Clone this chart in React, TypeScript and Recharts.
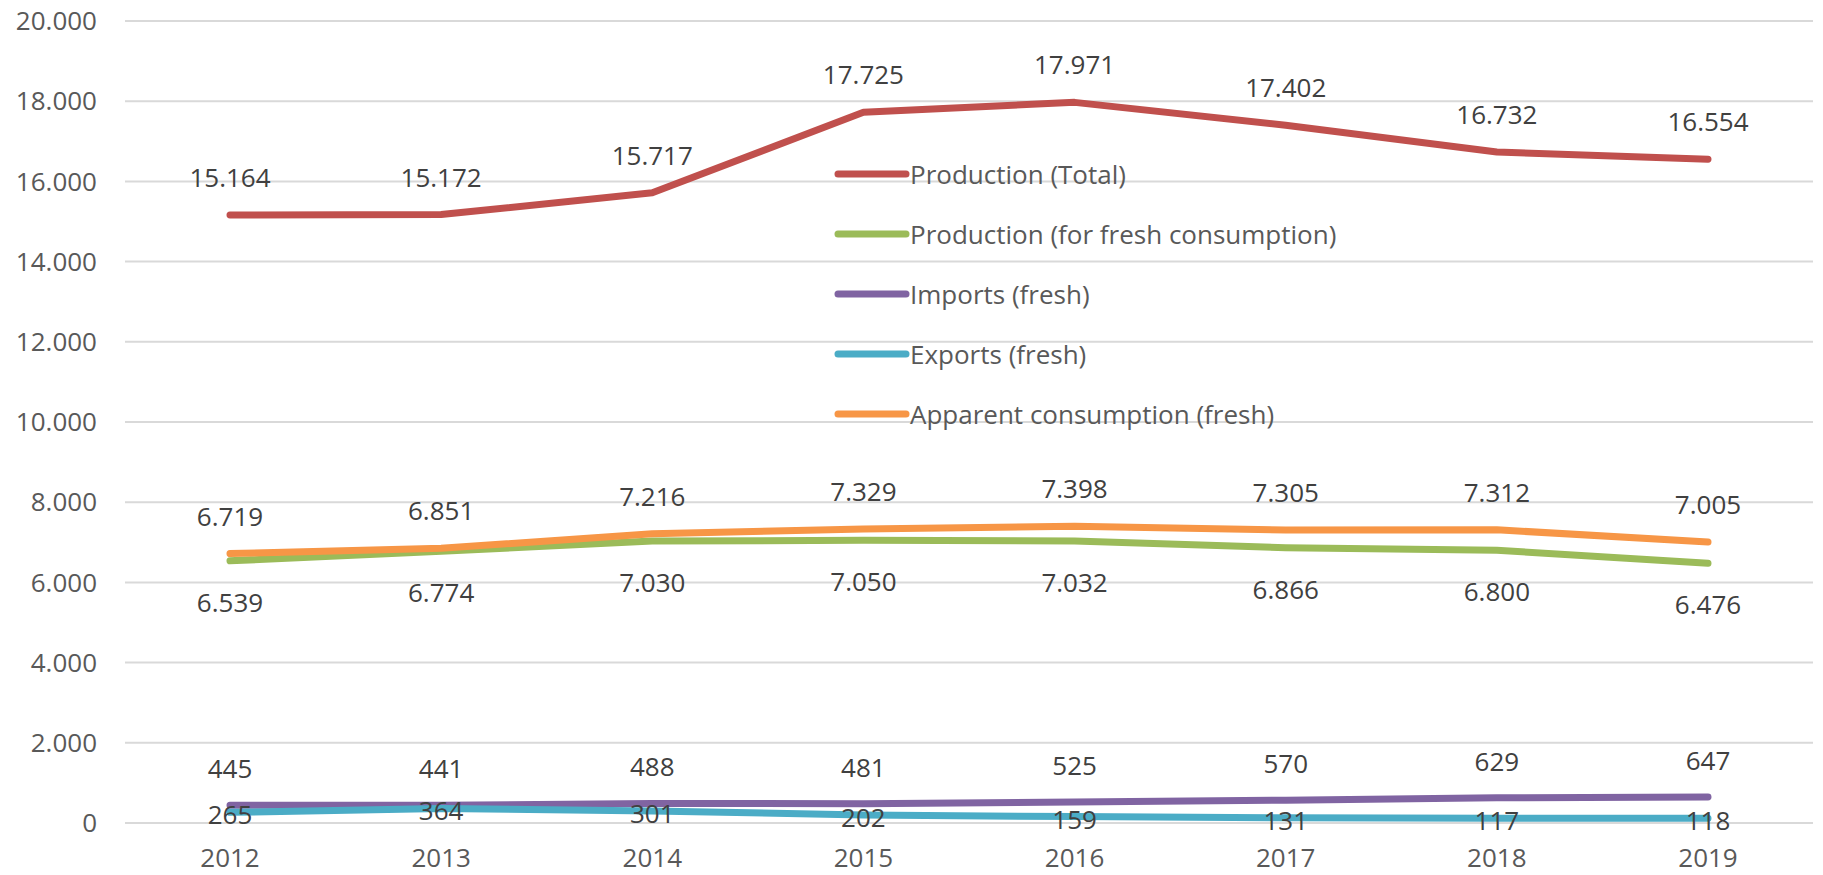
import React from "react";
import { LineChart, Line, XAxis, YAxis, CartesianGrid, Legend, LabelList } from "recharts";

const years = ["2012", "2013", "2014", "2015", "2016", "2017", "2018", "2019"];
const productionTotal = [15164, 15172, 15717, 17725, 17971, 17402, 16732, 16554];
const productionFresh = [6539, 6774, 7030, 7050, 7032, 6866, 6800, 6476];
const importsFresh = [445, 441, 488, 481, 525, 570, 629, 647];
const exportsFresh = [265, 364, 301, 202, 159, 131, 117, 118];
const apparentConsumption = [6719, 6851, 7216, 7329, 7398, 7305, 7312, 7005];
const yTicks = [0, 2000, 4000, 6000, 8000, 10000, 12000, 14000, 16000, 18000, 20000];

const TEXT = "#595959";
const LABEL = "#404040";
const FONT = 26;

// dy = where the label sits relative to its point
const SERIES = [
  { key: "total", name: "Production (Total)", color: "#C0504D", dy: -38 },
  { key: "fresh", name: "Production (for fresh consumption)", color: "#9BBB59", dy: 41 },
  { key: "imports", name: "Imports (fresh)", color: "#8064A2", dy: -37 },
  { key: "exports", name: "Exports (fresh)", color: "#4BACC6", dy: 2 },
  { key: "apparent", name: "Apparent consumption (fresh)", color: "#F79646", dy: -38 },
];

const data = years.map((year, i) => ({
  year,
  total: productionTotal[i],
  fresh: productionFresh[i],
  imports: importsFresh[i],
  exports: exportsFresh[i],
  apparent: apparentConsumption[i],
}));

const fmt = (v: number) => String(v).replace(/\B(?=(\d{3})+(?!\d))/g, ".");

const makeLabel = (dy: number) => (props: any) => {
  const { x, y, value } = props;
  if (x == null || y == null) return null;
  return (
    <text
      x={x}
      y={y + dy}
      textAnchor="middle"
      dominantBaseline="central"
      fontSize={FONT}
      fill={LABEL}
    >
      {fmt(value)}
    </text>
  );
};

const renderLegend = () => (
  <div style={{ display: "flex", flexDirection: "column" }}>
    {SERIES.map((s) => (
      <div key={s.key} style={{ height: 60, display: "flex", alignItems: "center" }}>
        <svg width={76} height={10} style={{ display: "block" }}>
          <line x1={4} y1={5} x2={72} y2={5} stroke={s.color} strokeWidth={7} strokeLinecap="round" />
        </svg>
        <span style={{ fontSize: FONT, color: TEXT, whiteSpace: "nowrap", lineHeight: "30px" }}>{s.name}</span>
      </div>
    ))}
  </div>
);

export default function App() {
  return (
    <div
      style={{
        position: "absolute",
        left: 0,
        top: 0,
        width: 1823,
        height: 875,
        background: "#fff",
        fontFamily: "'Open Sans', sans-serif",
      }}
    >
      <LineChart width={1823} height={875} data={data} margin={{ top: 21, right: 10, bottom: 0, left: 0 }}>
        <CartesianGrid vertical={false} stroke="#D9D9D9" strokeWidth={2} />
        <XAxis
          dataKey="year"
          axisLine={false}
          tickLine={false}
          tickSize={0}
          tickMargin={26}
          height={52}
          padding={{ left: 105, right: 105 }}
          tick={{ fontSize: FONT, fill: TEXT }}
          interval={0}
        />
        <YAxis
          width={125}
          domain={[0, 20000]}
          ticks={yTicks}
          interval={0}
          axisLine={false}
          tickLine={false}
          tickSize={0}
          tickMargin={28}
          tickFormatter={fmt}
          tick={{ fontSize: FONT, fill: TEXT }}
        />
        <Legend
          layout="vertical"
          align="center"
          verticalAlign="middle"
          content={renderLegend}
          wrapperStyle={{ left: 834, top: 144, width: "auto" }}
        />
        {SERIES.map((s) => (
          <Line
            key={s.key}
            type="linear"
            dataKey={s.key}
            name={s.name}
            stroke={s.color}
            strokeWidth={7}
            strokeLinecap="round"
            strokeLinejoin="round"
            dot={false}
            activeDot={false}
            isAnimationActive={false}
          >
            <LabelList dataKey={s.key} content={makeLabel(s.dy)} />
          </Line>
        ))}
      </LineChart>
    </div>
  );
}
